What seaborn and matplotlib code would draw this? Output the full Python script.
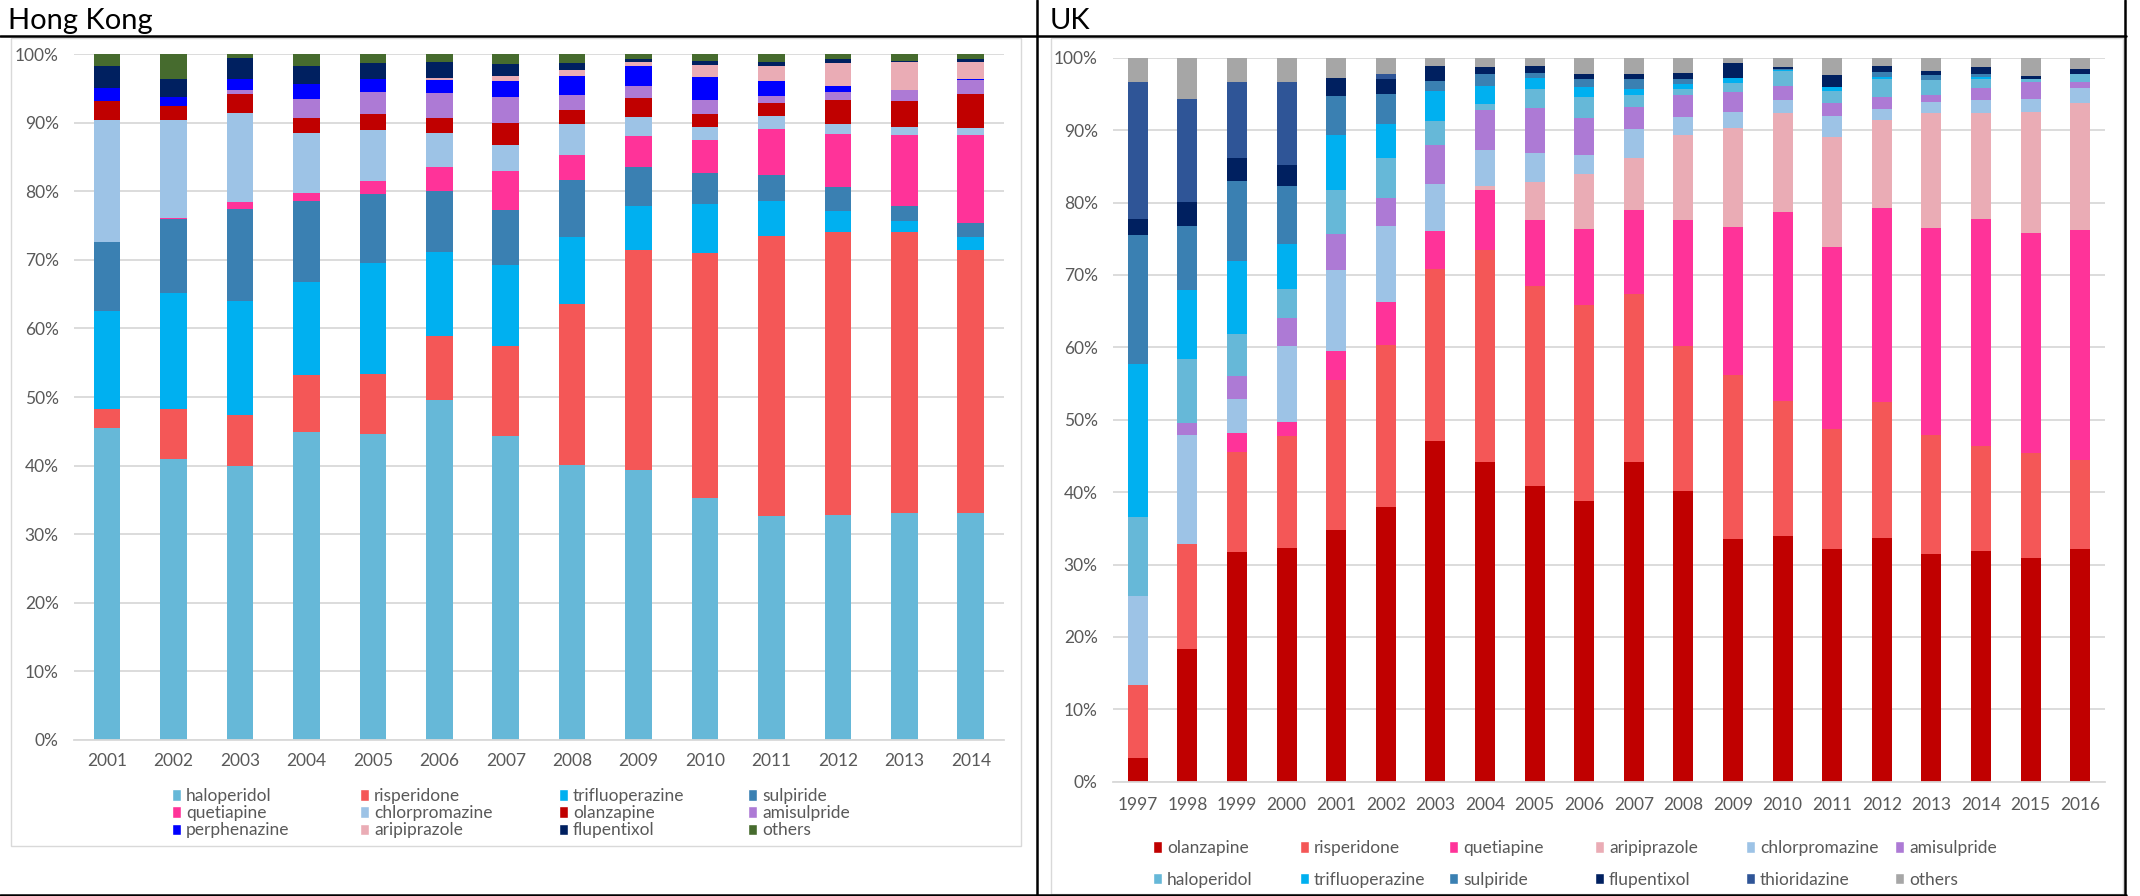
import numpy as np
import matplotlib
matplotlib.use("Agg")
import matplotlib.pyplot as plt
import seaborn as sns
from matplotlib.lines import Line2D
from matplotlib.patches import Patch, Rectangle

# ---- Hong Kong data (share of prescriptions, %) ----
hk_years = [str(y) for y in range(2001, 2015)]
hk_haloperidol = [45.5, 41.0, 40.0, 44.9, 44.6, 49.5, 44.3, 40.1, 39.4, 35.3, 32.6, 32.8, 33.1, 33.1]
hk_risperidone = [2.8, 7.2, 7.4, 8.3, 8.8, 9.4, 13.2, 23.4, 32.0, 35.7, 40.8, 41.2, 41.0, 38.4]
hk_trifluoperazine = [14.2, 16.9, 16.6, 13.6, 16.2, 12.3, 11.8, 9.8, 6.5, 7.1, 5.1, 3.1, 1.6, 1.8]
hk_sulpiride = [10.1, 10.8, 13.4, 11.8, 10.0, 8.9, 8.0, 8.3, 5.6, 4.6, 3.9, 3.5, 2.1, 2.1]
hk_quetiapine = [0.0, 0.2, 1.0, 1.2, 1.9, 3.5, 5.6, 3.7, 4.6, 4.7, 6.6, 7.8, 10.4, 12.8]
hk_chlorpromazine = [17.8, 14.3, 13.0, 8.7, 7.4, 4.9, 3.8, 4.5, 2.7, 2.0, 2.0, 1.4, 1.2, 1.0]
hk_olanzapine = [2.7, 2.0, 2.7, 2.2, 2.3, 2.1, 3.3, 2.0, 2.8, 1.8, 1.9, 3.5, 3.8, 5.0]
hk_amisulpride = [0.0, 0.0, 0.6, 2.7, 3.2, 3.7, 3.7, 2.2, 1.7, 2.1, 1.0, 1.2, 1.5, 2.0]
hk_perphenazine = [2.0, 1.4, 1.7, 2.2, 2.0, 1.9, 2.4, 2.8, 2.9, 3.3, 2.1, 0.8, 0.0, 0.1]
hk_aripiprazole = [0.0, 0.0, 0.0, 0.0, 0.0, 0.3, 0.7, 0.9, 0.6, 1.8, 2.3, 3.4, 4.1, 2.6]
hk_flupentixol = [3.2, 2.5, 3.0, 2.7, 2.3, 2.4, 1.7, 1.0, 0.5, 0.6, 0.6, 0.6, 0.2, 0.4]
hk_others = [1.7, 3.7, 0.6, 1.7, 1.3, 1.1, 1.5, 1.3, 0.7, 1.0, 1.1, 0.7, 1.0, 0.8]

# ---- UK data (share of prescriptions, %) ----
uk_years = [str(y) for y in range(1997, 2017)]
uk_olanzapine = [3.3, 18.3, 31.7, 32.3, 34.7, 37.9, 47.1, 44.2, 40.8, 38.8, 44.1, 40.2, 33.5, 34.0, 32.2, 33.7, 31.4, 31.9, 30.9, 32.1]
uk_risperidone = [10.0, 14.5, 13.8, 15.5, 20.8, 22.4, 23.7, 29.2, 27.6, 27.0, 23.3, 20.0, 22.7, 18.6, 16.5, 18.7, 16.5, 14.4, 14.5, 12.3]
uk_quetiapine = [0.0, 0.0, 2.6, 1.9, 4.0, 5.9, 5.3, 8.3, 9.2, 10.5, 11.6, 17.4, 20.4, 26.1, 25.2, 26.8, 28.6, 31.4, 30.4, 31.8]
uk_aripiprazole = [0.0, 0.0, 0.0, 0.0, 0.0, 0.0, 0.0, 0.6, 5.2, 7.6, 7.2, 11.7, 13.7, 13.7, 15.1, 12.2, 15.8, 14.7, 16.7, 17.5]
uk_chlorpromazine = [12.3, 15.1, 4.7, 10.5, 11.2, 10.5, 6.4, 5.0, 4.0, 2.7, 4.0, 2.5, 2.2, 1.8, 3.0, 1.5, 1.6, 1.8, 1.8, 2.1]
uk_amisulpride = [0.0, 1.6, 3.3, 3.8, 4.9, 3.9, 5.4, 5.5, 6.3, 5.1, 3.0, 3.1, 2.8, 1.9, 1.7, 1.7, 1.0, 1.6, 2.3, 0.8]
uk_haloperidol = [11.0, 8.9, 5.8, 4.0, 6.1, 5.5, 3.4, 0.8, 2.6, 2.9, 1.7, 0.8, 1.2, 2.1, 1.7, 2.5, 2.0, 1.3, 0.4, 1.2]
uk_trifluoperazine = [21.1, 9.5, 10.0, 6.2, 7.6, 4.7, 4.1, 2.5, 1.5, 1.4, 0.8, 0.6, 0.7, 0.1, 0.6, 0.2, 0.0, 0.3, 0.0, 0.0]
uk_sulpiride = [17.8, 8.9, 11.1, 8.1, 5.4, 4.2, 1.4, 1.7, 0.7, 1.1, 1.4, 0.7, 0.0, 0.1, 0.0, 0.7, 0.7, 0.3, 0.0, 0.0]
uk_flupentixol = [2.2, 3.2, 3.2, 2.9, 2.5, 2.1, 2.0, 0.9, 1.0, 0.6, 0.7, 0.9, 2.1, 0.3, 1.6, 0.8, 0.6, 1.0, 0.5, 0.7]
uk_thioridazine = [18.9, 14.3, 10.5, 11.4, 0.0, 0.7, 0.0, 0.0, 0.0, 0.0, 0.0, 0.0, 0.0, 0.0, 0.0, 0.0, 0.0, 0.0, 0.0, 0.0]
uk_others = [3.4, 5.7, 3.3, 3.4, 2.8, 2.2, 1.2, 1.3, 1.1, 2.3, 2.4, 2.2, 0.7, 1.3, 2.5, 1.3, 1.9, 1.3, 2.6, 1.5]

colors = {
    "haloperidol": "#66B8D8", "risperidone": "#F45757", "trifluoperazine": "#00B0F0",
    "sulpiride": "#3A80B2", "quetiapine": "#FF3399", "chlorpromazine": "#9DC3E6",
    "olanzapine": "#C00000", "amisulpride": "#AD7AD5", "perphenazine": "#0000FF",
    "aripiprazole": "#EAACB5", "flupentixol": "#002060", "thioridazine": "#2F5597",
}
hk_others_color = "#466B2E"
uk_others_color = "#A6A6A6"

hk_series = [
    ("haloperidol", hk_haloperidol), ("risperidone", hk_risperidone),
    ("trifluoperazine", hk_trifluoperazine), ("sulpiride", hk_sulpiride),
    ("quetiapine", hk_quetiapine), ("chlorpromazine", hk_chlorpromazine),
    ("olanzapine", hk_olanzapine), ("amisulpride", hk_amisulpride),
    ("perphenazine", hk_perphenazine), ("aripiprazole", hk_aripiprazole),
    ("flupentixol", hk_flupentixol), ("others", hk_others),
]
uk_series = [
    ("olanzapine", uk_olanzapine), ("risperidone", uk_risperidone),
    ("quetiapine", uk_quetiapine), ("aripiprazole", uk_aripiprazole),
    ("chlorpromazine", uk_chlorpromazine), ("amisulpride", uk_amisulpride),
    ("haloperidol", uk_haloperidol), ("trifluoperazine", uk_trifluoperazine),
    ("sulpiride", uk_sulpiride), ("flupentixol", uk_flupentixol),
    ("thioridazine", uk_thioridazine), ("others", uk_others),
]

sns.set_theme(style="white")
plt.rcParams["font.family"] = ["Lato", "DejaVu Sans"]

W, H = 2140, 896
fig = plt.figure(figsize=(W / 100, H / 100), dpi=100)
fig.patch.set_facecolor("white")


def px_rect(x0, y0, x1, y1):
    # pixel box (top-left origin) -> figure fraction [left, bottom, width, height]
    return [x0 / W, 1 - y1 / H, (x1 - x0) / W, (y1 - y0) / H]


def stacked(ax, years, series, others_color, tick_pad_y, tick_pad_x):
    names = [n for n, _ in series]
    tops = np.cumsum(np.array([v for _, v in series]), axis=0)
    # draw cumulative bars from the top down so lower segments overlay
    for i in range(len(names) - 1, -1, -1):
        c = others_color if names[i] == "others" else colors[names[i]]
        sns.barplot(x=years, y=tops[i], color=c, saturation=1, width=0.4,
                    ax=ax, linewidth=0)
    ax.set_xlim(-0.5, len(years) - 0.5)
    ax.set_ylim(0, 100)
    ax.set_yticks(range(0, 101, 10))
    ax.set_yticklabels([f"{v}%" for v in range(0, 101, 10)])
    ax.yaxis.grid(True, color="#D9D9D9", lw=1.3)
    ax.set_axisbelow(True)
    for s in ["top", "right", "left"]:
        ax.spines[s].set_visible(False)
    ax.spines["bottom"].set_color("#D9D9D9")
    ax.spines["bottom"].set_linewidth(1.3)
    ax.tick_params(axis="y", length=0, pad=tick_pad_y, labelsize=12.5, labelcolor="#595959")
    ax.tick_params(axis="x", length=0, pad=tick_pad_x, labelsize=12.5, labelcolor="#595959")
    ax.set_xlabel("")
    ax.set_ylabel("")
    handles = [Patch(facecolor=others_color if n == "others" else colors[n], label=n)
               for n in names]
    return handles


def legend_grid(handles, ncol, xs, top, spacing):
    # Excel lays legend entries out row by row in equal-width columns
    kw = dict(frameon=False, borderpad=0, borderaxespad=0, handlelength=0.5,
              handleheight=0.65, handletextpad=0.3, fontsize=12.5,
              labelcolor="#595959", loc="upper left", labelspacing=spacing)
    for c in range(ncol):
        fig.legend(handles=handles[c::ncol], bbox_to_anchor=((xs[c] - 3) / W, 1 - top / H), **kw)


# Excel chart frames
fig.add_artist(Rectangle((11 / W, 1 - 846 / H), (1021 - 11) / W, (846 - 38) / H,
                         transform=fig.transFigure, fill=False, ec="#D9D9D9", lw=1))
fig.add_artist(Rectangle((1051 / W, 1 - 894 / H), (2123 - 1051) / W, (894 - 38) / H,
                         transform=fig.transFigure, fill=False, ec="#D9D9D9", lw=1))

ax_hk = fig.add_axes(px_rect(74, 54, 1004, 740))
hk_handles = stacked(ax_hk, hk_years, hk_series, hk_others_color, 11, 9)
ax_uk = fig.add_axes(px_rect(1113, 57.7, 2105, 781.7))
uk_handles = stacked(ax_uk, uk_years, uk_series, uk_others_color, 11, 11)

legend_grid(hk_handles, 4, [175, 363, 562, 751], 788, 0.07)
legend_grid(uk_handles, 6, [1156, 1303, 1452, 1598, 1749, 1898], 840, 0.9)

# table borders around the two panels
def hline(y, x0, x1, lw=1.8):
    fig.add_artist(Line2D([x0 / W, x1 / W], [1 - y / H, 1 - y / H],
                          transform=fig.transFigure, color="black", lw=lw))


def vline(x, y0, y1, lw=1.8):
    fig.add_artist(Line2D([x / W, x / W], [1 - y0 / H, 1 - y1 / H],
                          transform=fig.transFigure, color="black", lw=lw))


hline(36, 0, 2126)
hline(895, 0, 2126)
vline(1037, 0, 896)
vline(2125, 0, 896)

fig.text(8 / W, 1 - 29 / H, "Hong Kong", fontsize=21, color="black", va="baseline")
fig.text(1050 / W, 1 - 29 / H, "UK", fontsize=21, color="black", va="baseline")

fig.savefig("out.png", dpi=100)
